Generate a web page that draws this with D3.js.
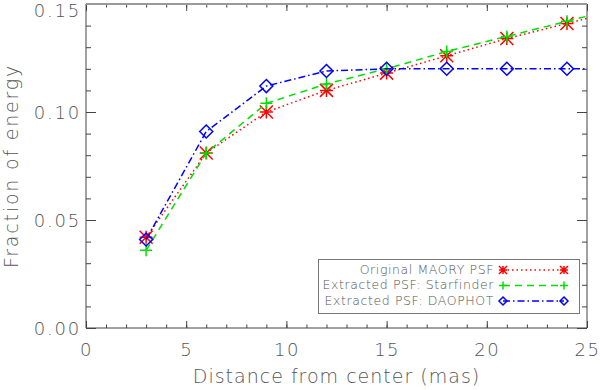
<!DOCTYPE html>
<html>
<head>
<meta charset="utf-8">
<script src="https://cdn.jsdelivr.net/npm/d3@7"></script>
<style>
  body { margin: 0; background: #fff; }
  text { font-family: "DejaVu Sans", sans-serif; fill: #555; font-weight: 200; }
</style>
</head>
<body>
<div id="chart"></div>
<script>
// distances (mas); last point lies outside the plotted range and is clipped
const distance = [3, 6, 9, 12, 15, 18, 21, 24, 27];
const maory      = [0.042, 0.081, 0.100, 0.110, 0.118, 0.126, 0.134, 0.141, 0.148];
const starfinder = [0.036, 0.081, 0.104, 0.113, 0.120, 0.128, 0.135, 0.142, 0.149];
const daophot    = [0.041, 0.091, 0.112, 0.119, 0.120, 0.120, 0.120, 0.120, 0.120];
const seriesNames = ["Original MAORY PSF", "Extracted PSF: Starfinder", "Extracted PSF: DAOPHOT"];
const xTicks = [0, 5, 10, 15, 20, 25];
const yTicks = [0, 0.05, 0.10, 0.15];

const width = 600, height = 390;
const margin = {top: 4, right: 13, bottom: 62, left: 86};

const svg = d3.select("#chart").append("svg")
    .attr("width", width)
    .attr("height", height);

const x = d3.scaleLinear().domain([0, 25]).range([margin.left, width - margin.right]);
const y = d3.scaleLinear().domain([0, 0.15]).range([height - margin.bottom, margin.top]);

const series = [
  {name: seriesNames[0], values: maory, color: "#ff0000", dash: "1.5,3", marker: "asterisk"},
  {name: seriesNames[1], values: starfinder, color: "#00e000", dash: "7,5", marker: "plus"},
  {name: seriesNames[2], values: daophot, color: "#0000ff", dash: "7,3,1.5,3", marker: "diamond"}
];

// marker paths centred on 0,0
function markerPath(type, s) {
  const p = d3.path();
  if (type === "asterisk") {
    p.moveTo(-s, 0); p.lineTo(s, 0);
    p.moveTo(-s, -s); p.lineTo(s, s);
    p.moveTo(-s, s); p.lineTo(s, -s);
    p.moveTo(0, -s); p.lineTo(0, s);
  } else if (type === "plus") {
    p.moveTo(-s, 0); p.lineTo(s, 0);
    p.moveTo(0, -s); p.lineTo(0, s);
  } else {
    p.moveTo(0, -s); p.lineTo(s, 0); p.lineTo(0, s); p.lineTo(-s, 0); p.closePath();
  }
  return p.toString();
}

svg.append("clipPath").attr("id", "clip")
  .append("rect")
    .attr("x", x(0)).attr("y", y(0.15))
    .attr("width", x(25) - x(0)).attr("height", y(0) - y(0.15));

// axes: major + minor ticks, pointing inward on all four sides
const axisColor = "#444";
const xLen = 7, yLen = 10;

function styleAxis(g) {
  g.select(".domain").remove();
  g.selectAll(".tick line").attr("stroke", axisColor);
}

svg.append("g")
    .attr("transform", `translate(0,${y(0)})`)
    .call(d3.axisBottom(x).tickValues(d3.range(0, 26, 1)).tickSize(-xLen / 2).tickFormat(""))
    .call(styleAxis);
svg.append("g")
    .attr("transform", `translate(0,${y(0)})`)
    .call(d3.axisBottom(x).tickValues(xTicks).tickSize(-xLen).tickPadding(15).tickFormat(d3.format("d")))
    .call(styleAxis)
    .call(g => g.selectAll("text").attr("font-size", 18).attr("fill", "#555").attr("font-family", null)
      .attr("letter-spacing", 1.5));
svg.append("g")
    .attr("transform", `translate(0,${y(0.15)})`)
    .call(d3.axisTop(x).tickValues(d3.range(0, 26, 1)).tickSize(-xLen / 2).tickFormat(""))
    .call(styleAxis);
svg.append("g")
    .attr("transform", `translate(0,${y(0.15)})`)
    .call(d3.axisTop(x).tickValues(xTicks).tickSize(-xLen).tickFormat(""))
    .call(styleAxis);

svg.append("g")
    .attr("transform", `translate(${x(0)},0)`)
    .call(d3.axisLeft(y).tickValues(d3.range(0, 0.1501, 0.01)).tickSize(-yLen / 2).tickFormat(""))
    .call(styleAxis);
svg.append("g")
    .attr("transform", `translate(${x(0)},0)`)
    .call(d3.axisLeft(y).tickValues(yTicks).tickSize(-yLen).tickPadding(5).tickFormat(d3.format(".2f")))
    .call(styleAxis)
    .call(g => g.selectAll("text").attr("font-size", 18).attr("fill", "#555").attr("font-family", null)
      .attr("letter-spacing", 1.8)
      .attr("dy", d => d === 0.15 ? "0.72em" : "0.34em"));
svg.append("g")
    .attr("transform", `translate(${x(25)},0)`)
    .call(d3.axisRight(y).tickValues(d3.range(0, 0.1501, 0.01)).tickSize(-yLen / 2).tickFormat(""))
    .call(styleAxis);
svg.append("g")
    .attr("transform", `translate(${x(25)},0)`)
    .call(d3.axisRight(y).tickValues(yTicks).tickSize(-yLen).tickFormat(""))
    .call(styleAxis);

// frame
svg.append("path")
    .attr("d", `M${x(0)},${y(0.15)}V${y(0)}H${x(25)}V${y(0.15)}`)
    .attr("fill", "none").attr("stroke", axisColor).attr("stroke-width", 1);
svg.append("line")
    .attr("x1", x(0)).attr("x2", x(25)).attr("y1", y(0.15)).attr("y2", y(0.15))
    .attr("stroke", "#999").attr("stroke-width", 2);

// axis titles
svg.append("text")
    .attr("x", (x(0) + x(25)) / 2).attr("y", 383)
    .attr("text-anchor", "middle").attr("font-size", 19)
    .attr("letter-spacing", 1)
    .text("Distance from center (mas)");
svg.append("text")
    .attr("transform", `translate(18,${(y(0) + y(0.15)) / 2}) rotate(-90)`)
    .attr("text-anchor", "middle").attr("font-size", 19)
    .attr("letter-spacing", 1.8)
    .text("Fraction of energy");

// series
const line = d3.line().x((d, i) => x(distance[i])).y(d => y(d));
const plot = svg.append("g").attr("clip-path", "url(#clip)");

series.forEach(s => {
  plot.append("path")
      .attr("d", line(s.values))
      .attr("fill", "none")
      .attr("stroke", s.color)
      .attr("stroke-width", 1.5)
      .attr("stroke-dasharray", s.dash);
  plot.selectAll(null)
    .data(s.values.map((v, i) => [distance[i], v]))
    .join("path")
      .attr("transform", d => `translate(${x(d[0])},${y(d[1])})`)
      .attr("d", markerPath(s.marker, s.marker === "plus" ? 6 : 6.5))
      .attr("fill", "none")
      .attr("stroke", s.color)
      .attr("stroke-width", 1.5);
});

// legend
const legend = svg.append("g");
legend.append("rect")
    .attr("x", 318.5).attr("y", 259.5).attr("width", 261).attr("height", 54)
    .attr("fill", "#fff").attr("stroke", "#777").attr("stroke-width", 1);

series.forEach((s, i) => {
  const by = 273.5 + i * 15.5;
  const my = by - 3.5;
  legend.append("text")
      .attr("x", 494).attr("y", by)
      .attr("text-anchor", "end").attr("font-size", 12.5)
      .attr("letter-spacing", 0.6)
      .text(s.name);
  legend.append("line")
      .attr("x1", 503).attr("x2", 564).attr("y1", my).attr("y2", my)
      .attr("stroke", s.color).attr("stroke-width", 1.5)
      .attr("stroke-dasharray", s.dash);
  [503, 564].forEach(mx => {
    legend.append("path")
        .attr("transform", `translate(${mx},${my})`)
        .attr("d", markerPath(s.marker, 4))
        .attr("fill", "none")
        .attr("stroke", s.color)
        .attr("stroke-width", 1.5);
  });
});
</script>
</body>
</html>
